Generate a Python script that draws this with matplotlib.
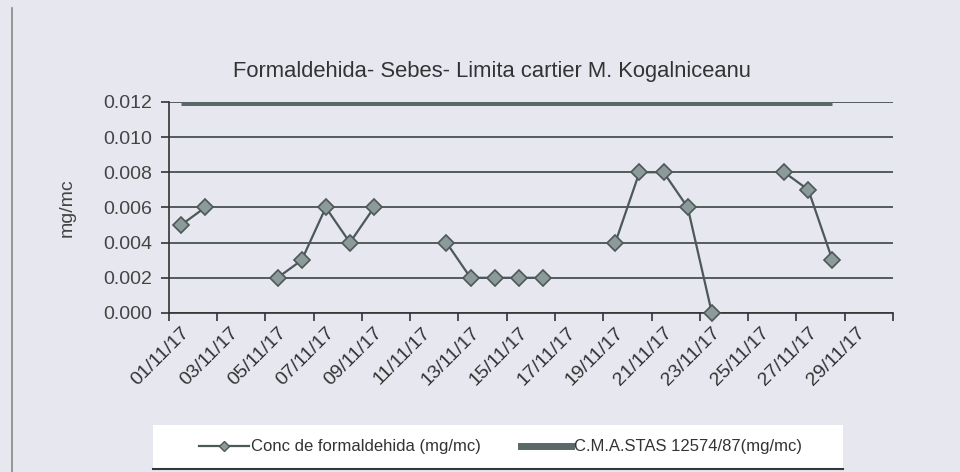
import matplotlib.pyplot as plt
from matplotlib.lines import Line2D
from matplotlib.patches import Rectangle
import numpy as np

# Days of November 2017, one category per day
days = [f"{d:02d}/11/17" for d in range(1, 31)]

# Formaldehyde concentration (mg/mc), None where no measurement
conc = [0.005, 0.006, None, None, 0.002, 0.003, 0.006, 0.004, 0.006, None,
        None, 0.004, 0.002, 0.002, 0.002, 0.002, None, None, 0.004, 0.008,
        0.008, 0.006, 0.000, None, None, 0.008, 0.007, 0.003, None, None]

# Limit value C.M.A. STAS 12574/87 (mg/mc), drawn up to 28/11
cma = [0.012] * 28 + [None, None]

bg = '#e7e7f0'
dark = '#4d5858'

plt.rcParams['font.family'] = ['Liberation Sans', 'DejaVu Sans']

fig = plt.figure(figsize=(9.6, 4.72), dpi=100, facecolor=bg)
ax = fig.add_axes([0.176, 0.337, 0.754, 0.447], facecolor=bg)

x = np.arange(len(days))
y_conc = np.array([np.nan if v is None else v for v in conc])
y_cma = np.array([np.nan if v is None else v for v in cma])

# Grid lines (Excel style, dark)
ax.set_ylim(0, 0.012)
ax.set_yticks(np.arange(0, 0.0121, 0.002))
ax.yaxis.grid(True, color='#3c4444', linewidth=1.2)
ax.set_axisbelow(True)

ax.plot(x, y_cma, color='#5a6868', linewidth=5, solid_capstyle='butt', zorder=3)
ax.plot(x, y_conc, color=dark, linewidth=1.6, marker='D', markersize=8,
        markerfacecolor='#8c9a9a', markeredgecolor=dark, markeredgewidth=1.2,
        zorder=4, clip_on=False)

ax.set_xlim(-0.5, len(days) - 0.5)
# tick marks between pairs of days, labels on every other day
ax.set_xticks(np.arange(-0.5, len(days), 2))
ax.set_xticklabels([])
ax.set_xticks(x[::2], minor=True)
ax.set_xticklabels(days[::2], minor=True, rotation=45, ha='right',
                   rotation_mode='anchor', fontsize=14, color='#333')
ax.tick_params(axis='x', which='major', length=6, color='#333', width=1.2)
ax.tick_params(axis='x', which='minor', length=0, pad=8)

ax.set_yticklabels([f"{v:.3f}" for v in np.arange(0, 0.0121, 0.002)],
                   fontsize=14, color='#444')
ax.tick_params(axis='y', length=6, color='#333', width=1.2, pad=6)

for s in ['top', 'right']:
    ax.spines[s].set_visible(False)
for s in ['left', 'bottom']:
    ax.spines[s].set_color('#333')
    ax.spines[s].set_linewidth(1.2)

ax.set_ylabel('mg/mc', fontsize=14, color='#444', labelpad=20)
fig.text(0.5125, 0.848, 'Formaldehida- Sebes- Limita cartier M. Kogalniceanu',
         ha='center', va='center', fontsize=15.8, color='#333')

# chart border on the left edge
fig.add_artist(Line2D([0.0125, 0.0125], [0.0, 0.983], color='#888', linewidth=1.2))

# legend box: white panel with a dark bottom edge
fig.add_artist(Rectangle((153 / 960, 3 / 472), 690 / 960, 44 / 472,
                         transform=fig.transFigure, facecolor='white',
                         edgecolor='none', zorder=1))
fig.add_artist(Line2D([153 / 960, 843 / 960], [3 / 472, 3 / 472],
                      color='#2f3a3a', linewidth=1.5, zorder=2))

handles = [
    Line2D([], [], color=dark, linewidth=1.6, marker='D', markersize=5,
           markerfacecolor='#8c9a9a', markeredgecolor=dark),
    Line2D([], [], color='#5a6868', linewidth=5),
]
leg = fig.legend(handles, ['Conc de formaldehida (mg/mc)', 'C.M.A.STAS 12574/87(mg/mc)'],
                 loc='center', bbox_to_anchor=(0.521, 0.053), ncol=2, fontsize=12,
                 frameon=False, handlelength=3.0, handletextpad=0.15,
                 columnspacing=2.4)
leg.set_zorder(3)
for t in leg.get_texts():
    t.set_color('#333')

fig.savefig('out.png', dpi=100, facecolor=bg)
